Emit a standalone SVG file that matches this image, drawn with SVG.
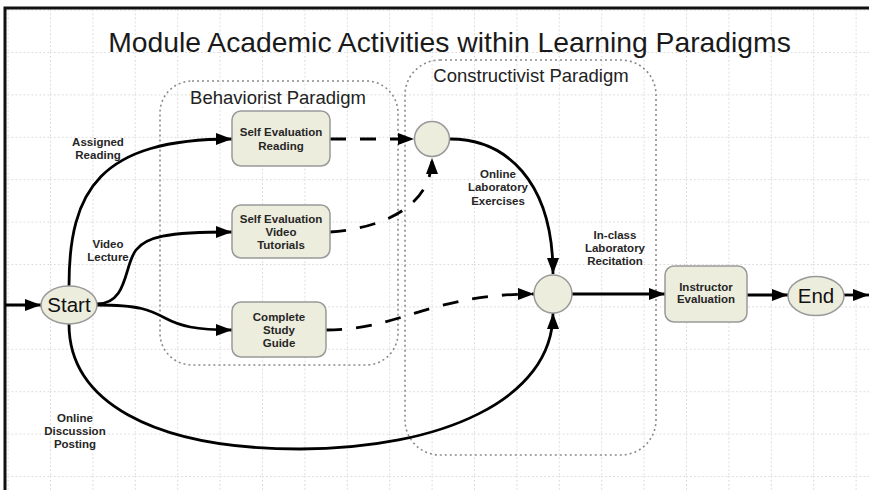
<svg xmlns="http://www.w3.org/2000/svg" width="869" height="490" viewBox="0 0 869 490">
<defs>
<pattern id="grid" x="7.6" y="9.6" width="42.4" height="42.4" patternUnits="userSpaceOnUse">
<path d="M0,0.5 H42.4 M0.5,0 V42.4" fill="none" stroke="#d4d4d4" stroke-width="1" stroke-dasharray="1.5 2.5"/>
</pattern>
<marker id="arr" markerUnits="userSpaceOnUse" markerWidth="18" markerHeight="14" refX="16" refY="6" orient="auto">
<path d="M0,0 L16,6 L0,12 z" fill="#000"/>
</marker>
<style>
.title{font-family:"Liberation Sans",Arial,sans-serif;font-size:28.3px;fill:#1a1a1a}
.para{font-family:"Liberation Sans",Arial,sans-serif;font-size:18.5px;fill:#222}
.lbl{font-family:"Liberation Sans",Arial,sans-serif;font-size:11.5px;font-weight:bold;fill:#262626;text-anchor:middle}
.big{font-family:"Liberation Sans",Arial,sans-serif;font-size:20.5px;fill:#111;text-anchor:middle}
.node{fill:#ededdd;stroke:#999;stroke-width:1.5}
.zone{fill:none;stroke:#8a8a8a;stroke-width:1.6;stroke-dasharray:2 3}
.edge{fill:none;stroke:#000;stroke-width:2.8;marker-end:url(#arr)}
.dash{fill:none;stroke:#000;stroke-width:2.8;stroke-dasharray:16 14;marker-end:url(#arr)}
</style>
</defs>
<rect x="0" y="0" width="869" height="490" fill="#fff"/>
<rect x="5" y="8" width="864" height="482" fill="url(#grid)"/>
<path d="M5,490 V8 H869" fill="none" stroke="#111" stroke-width="3"/>
<text class="title" x="449.5" y="52" text-anchor="middle">Module Academic Activities within Learning Paradigms</text>

<g id="behaviorist">
<rect class="zone" x="160" y="81" width="238" height="284" rx="32"/>
<text class="para" x="278" y="104" text-anchor="middle">Behaviorist Paradigm</text>
</g>
<g id="constructivist">
<rect class="zone" x="405" y="60" width="251" height="395" rx="35"/>
<text class="para" x="531" y="82" text-anchor="middle">Constructivist Paradigm</text>
</g>

<g id="connectors">
<path class="edge" d="M5,305 L41,305"/>
<path class="edge" d="M69,286 C69,190 100,139 232,139"/>
<path class="edge" d="M97,304 C128,304 124,265 136,250 C146,237 165,232 232,232"/>
<path class="edge" d="M97,305 C140,305 150,310 165,318 C180,326 195,330 232,330"/>
<path class="edge" d="M69,324 C69,400 150,449 300,449 C440,449 553,400 553,313"/>
<path class="dash" d="M330,139 L414,139"/>
<path class="dash" d="M330,232 C385,228 432,205 432,158"/>
<path class="dash" d="M326,330 C400,330 430,294 534,294"/>
<path class="edge" d="M450,139 C505,139 553,180 553,274"/>
<path class="edge" d="M572,294 L665,294"/>
<path class="edge" d="M747,295 L788,295"/>
<path class="edge" d="M844,295 L869,295"/>
<text class="lbl" x="98" y="146">Assigned</text>
<text class="lbl" x="98" y="159">Reading</text>
<text class="lbl" x="108" y="248">Video</text>
<text class="lbl" x="108" y="261">Lecture</text>
<text class="lbl" x="75" y="422">Online</text>
<text class="lbl" x="75" y="435">Discussion</text>
<text class="lbl" x="75" y="448">Posting</text>
<text class="lbl" x="498" y="178">Online</text>
<text class="lbl" x="498" y="191">Laboratory</text>
<text class="lbl" x="498" y="205">Exercises</text>
<text class="lbl" x="615" y="239">In-class</text>
<text class="lbl" x="615" y="252">Laboratory</text>
<text class="lbl" x="615" y="265">Recitation</text>
</g>

<g id="start">
<ellipse class="node" cx="69" cy="305" rx="28" ry="19"/>
<text class="big" x="69" y="312">Start</text>
</g>
<g id="self-eval-reading">
<rect class="node" x="232" y="111" width="98" height="55" rx="9"/>
<text class="lbl" x="281" y="136">Self Evaluation</text>
<text class="lbl" x="281" y="150">Reading</text>
</g>
<g id="self-eval-video">
<rect class="node" x="232" y="205" width="98" height="53" rx="9"/>
<text class="lbl" x="281" y="223">Self Evaluation</text>
<text class="lbl" x="281" y="236">Video</text>
<text class="lbl" x="281" y="249">Tutorials</text>
</g>
<g id="study-guide">
<rect class="node" x="232" y="302" width="94" height="55" rx="9"/>
<text class="lbl" x="279" y="321">Complete</text>
<text class="lbl" x="279" y="334">Study</text>
<text class="lbl" x="279" y="347">Guide</text>
</g>
<g id="junction-1">
<circle class="node" cx="432" cy="139" r="17.5"/>
</g>
<g id="junction-2">
<circle class="node" cx="553" cy="294" r="19"/>
</g>
<g id="instructor-eval">
<rect class="node" x="665" y="266" width="82" height="56" rx="9"/>
<text class="lbl" x="706" y="291">Instructor</text>
<text class="lbl" x="706" y="303">Evaluation</text>
</g>
<g id="end">
<ellipse class="node" cx="816" cy="296" rx="28" ry="19.5"/>
<text class="big" x="816" y="303">End</text>
</g>
</svg>
